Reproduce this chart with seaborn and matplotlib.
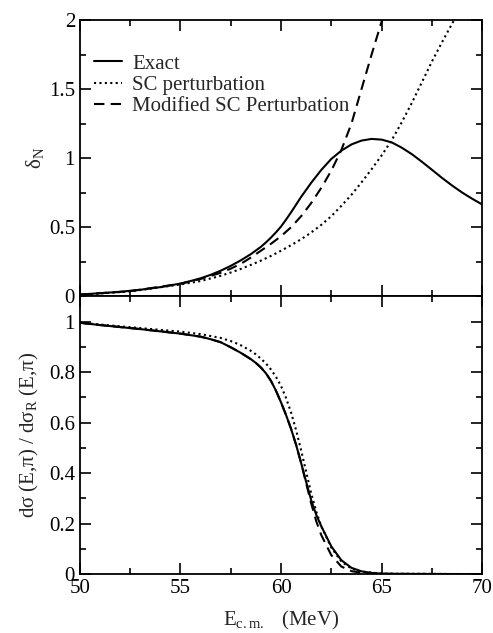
import matplotlib
matplotlib.use("Agg")
import matplotlib.pyplot as plt
from matplotlib.ticker import MultipleLocator, FuncFormatter
import seaborn as sns
import pandas as pd

# ---------------- data ----------------
# Top panel: delta_N vs E_cm
x_exact_top = [50, 51, 52, 53, 54, 55, 55.5, 56, 56.5, 57, 57.5, 58, 58.5, 59, 59.25, 59.5,
               59.75, 60, 60.25, 60.5, 60.75, 61, 61.5, 62, 62.5, 63, 63.5, 64, 64.5, 65,
               65.5, 66, 66.5, 67, 67.5, 68, 68.5, 69, 69.5, 70]
y_exact_top = [0.012, 0.022, 0.032, 0.047, 0.066, 0.092, 0.11, 0.13, 0.155, 0.185, 0.22,
               0.26, 0.305, 0.358, 0.39, 0.425, 0.463, 0.505, 0.555, 0.608, 0.664, 0.72,
               0.822, 0.915, 0.995, 1.055, 1.10, 1.128, 1.14, 1.135, 1.115, 1.077, 1.03,
               0.975, 0.917, 0.858, 0.803, 0.752, 0.707, 0.665]

x_sc_top = [50, 52.5, 55, 56, 57, 57.5, 58, 58.5, 59, 59.5, 60, 60.5, 61, 61.5, 62, 62.5,
            63, 63.5, 64, 64.5, 65, 65.5, 66, 66.5, 67, 67.5, 68, 68.6, 68.8]
y_sc_top = [0.01, 0.035, 0.085, 0.11, 0.148, 0.172, 0.198, 0.227, 0.258, 0.292, 0.33,
            0.37, 0.413, 0.462, 0.517, 0.58, 0.655, 0.735, 0.825, 0.92, 1.02, 1.13, 1.26,
            1.40, 1.55, 1.70, 1.84, 2.0, 2.06]

x_msc_top = [50, 52.5, 55, 56, 57, 57.5, 58, 58.5, 59, 59.5, 60, 60.5, 61, 61.5, 62,
             62.5, 63, 63.5, 64, 64.5, 65, 65.3]
y_msc_top = [0.012, 0.037, 0.09, 0.125, 0.17, 0.2, 0.235, 0.28, 0.33, 0.38, 0.435,
             0.50, 0.58, 0.675, 0.785, 0.91, 1.06, 1.25, 1.50, 1.75, 1.99, 2.12]

# Bottom panel: d sigma / d sigma_R
x_exact_bot = [50, 51, 52, 53, 54, 55, 56, 56.5, 57, 57.5, 58, 58.5, 58.75, 59, 59.25,
               59.5, 59.75, 60, 60.25, 60.5, 60.75, 61, 61.25, 61.5, 61.75, 62, 62.5, 63,
               63.5, 64, 64.5, 65, 66, 70]
y_exact_bot = [0.995, 0.986, 0.978, 0.97, 0.961, 0.952, 0.94, 0.93, 0.918, 0.898, 0.876,
               0.851, 0.836, 0.818, 0.795, 0.765, 0.726, 0.68, 0.63, 0.575, 0.512, 0.44,
               0.365, 0.293, 0.235, 0.19, 0.11, 0.055, 0.025, 0.011, 0.005, 0.002,
               0.001, 0.0]

x_sc_bot = [50, 55, 56, 57, 57.6, 58, 58.5, 58.75, 59, 59.25, 59.5, 59.75, 60, 60.25,
            60.5, 60.75, 61, 61.25, 61.5, 61.75, 62, 62.5, 63, 63.5, 64, 65, 70]
y_sc_bot = [0.995, 0.96, 0.95, 0.935, 0.92, 0.906, 0.884, 0.87, 0.853, 0.834, 0.81,
            0.781, 0.745, 0.697, 0.64, 0.57, 0.49, 0.405, 0.32, 0.248, 0.19, 0.105,
            0.05, 0.022, 0.01, 0.002, 0.0]

x_msc_bot = [50, 51, 52, 53, 54, 55, 56, 56.5, 57, 57.5, 58, 58.5, 58.75, 59, 59.25,
             59.5, 59.75, 60, 60.25, 60.5, 60.75, 61, 61.25, 61.5, 61.75, 62, 62.5, 63,
             63.5, 64, 65, 70]
y_msc_bot = [0.995, 0.986, 0.978, 0.97, 0.961, 0.952, 0.94, 0.93, 0.918, 0.898, 0.876,
             0.851, 0.836, 0.818, 0.795, 0.765, 0.726, 0.68, 0.63, 0.575, 0.512, 0.44,
             0.36, 0.28, 0.21, 0.155, 0.075, 0.03, 0.012, 0.005, 0.001, 0.0]

labels = ["Exact", "SC perturbation", "Modified SC Perturbation"]
x_ticks = [50, 55, 60, 65, 70]

# ---------------- style ----------------
sns.set_style("ticks")
plt.rcParams["font.family"] = ["Liberation Serif", "DejaVu Serif"]
plt.rcParams["mathtext.fontset"] = "custom"
plt.rcParams["mathtext.rm"] = "Liberation Serif"
plt.rcParams["mathtext.it"] = "Liberation Serif:italic"
plt.rcParams["font.size"] = 15

styles = ["-", (0, (1, 1.6)), (0, (5, 3))]
lw = 1.5

fig = plt.figure(figsize=(4.93, 6.33), dpi=100)
ax1 = fig.add_axes([0.162, 0.532, 0.816, 0.436])
ax2 = fig.add_axes([0.162, 0.093, 0.816, 0.439])

top_sets = [(x_exact_top, y_exact_top), (x_sc_top, y_sc_top), (x_msc_top, y_msc_top)]
bot_sets = [(x_exact_bot, y_exact_bot), (x_sc_bot, y_sc_bot), (x_msc_bot, y_msc_bot)]

for (xs, ys), lab, ls in zip(top_sets, labels, styles):
    df = pd.DataFrame({"E": xs, "v": ys})
    sns.lineplot(data=df, x="E", y="v", ax=ax1, color="black", linestyle=ls,
                 linewidth=lw, label=lab, sort=True)
for (xs, ys), lab, ls in zip(bot_sets, labels, styles):
    df = pd.DataFrame({"E": xs, "v": ys})
    sns.lineplot(data=df, x="E", y="v", ax=ax2, color="black", linestyle=ls,
                 linewidth=lw, sort=True)

fmt = FuncFormatter(lambda v, p: "%g" % v)
for ax in (ax1, ax2):
    ax.set_xlim(50, 70)
    ax.xaxis.set_major_locator(MultipleLocator(5))
    ax.xaxis.set_minor_locator(MultipleLocator(2.5))
    ax.tick_params(which="both", direction="in", top=True, right=True,
                   width=1.2, colors="black", labelsize=15)
    ax.tick_params(which="major", length=8)
    ax.tick_params(which="minor", length=4.5)
    for s in ax.spines.values():
        s.set_linewidth(1.3)
        s.set_color("black")
    ax.yaxis.set_major_formatter(fmt)

ax1.set_ylim(0, 2)
ax1.yaxis.set_major_locator(MultipleLocator(0.5))
ax1.yaxis.set_minor_locator(MultipleLocator(0.25))
ax1.tick_params(labelbottom=False)
ax1.set_xlabel("")
ax1.set_ylabel("δ$_{\\mathrm{N}}$", fontsize=15, labelpad=2)

ax2.set_ylim(0, 1.1)
ax2.set_yticks([0, 0.2, 0.4, 0.6, 0.8, 1.0])
ax2.yaxis.set_minor_locator(MultipleLocator(0.1))
ax2.set_xticks(x_ticks)
ax2.xaxis.set_major_formatter(fmt)
ax2.set_xlabel("E$_{\\mathrm{c.m.}}$   (MeV)", fontsize=15, labelpad=8)
ax2.set_ylabel("dσ (E,π) / dσ$_{\\mathrm{R}}$ (E,π)", fontsize=15, labelpad=6)

leg = ax1.legend(loc="upper left", bbox_to_anchor=(0.0, 0.93), frameon=False,
                 handlelength=1.3, handletextpad=0.5, labelspacing=0.08,
                 fontsize=15, borderaxespad=0.3)

fig.savefig("out.png", dpi=100)
